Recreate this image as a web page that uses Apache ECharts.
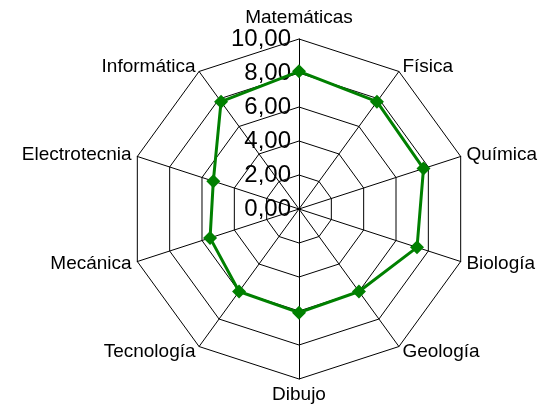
<!DOCTYPE html>
<html>
<head>
<meta charset="utf-8">
<script src="https://cdn.jsdelivr.net/npm/echarts@6/dist/echarts.min.js"></script>
<style>
    html, body { margin: 0; padding: 0; background: #fff; }
    #radar { width: 545px; height: 414px; }
</style>
</head>
<body>
<div id="radar"></div>
<script>
// asignaturas en orden horario desde arriba
const subjects = ['Matemáticas', 'Física', 'Química', 'Biología', 'Geología', 'Dibujo', 'Tecnología', 'Mecánica', 'Electrotecnia', 'Informática']
const scores = [8.1, 7.8, 7.7, 7.3, 6.0, 6.1, 6.0, 5.5, 5.3, 7.8]
const maxScore = 10

// echarts coloca los indicadores en sentido antihorario: invertimos el resto
const order = [0].concat(subjects.map((_, i) => i).slice(1).reverse())

const chart = echarts.init(document.getElementById('radar'))
chart.setOption({
    animation: false,
    radar: {
        center: [299, 209],
        radius: 170,
        startAngle: 90,
        shape: 'polygon',
        splitNumber: 5,
        nameGap: 6,
        axisName: {
            color: '#000',
            fontSize: 19,
            fontFamily: 'Liberation Sans'
        },
        indicator: order.map((i, k) => {
            const ind = { name: subjects[i], min: 0, max: maxScore }
            if (k === 0) {
                ind.axisLabel = {
                    show: true,
                    color: '#000',
                    fontSize: 24,
                    fontFamily: 'Liberation Sans',
                    padding: [4, 0, 0, 0],
                    formatter: v => v.toFixed(2).replace('.', ',')
                }
            }
            return ind
        }),
        axisLine: { lineStyle: { color: '#000', width: 1 } },
        splitLine: { lineStyle: { color: '#000', width: 1 } },
        splitArea: { show: false },
        axisLabel: { show: false }
    },
    series: [{
        type: 'radar',
        symbol: 'diamond',
        symbolSize: 14,
        lineStyle: { color: '#008000', width: 3 },
        itemStyle: { color: '#008000' },
        data: [{ value: order.map(i => scores[i]) }]
    }]
})
</script>
</body>
</html>
